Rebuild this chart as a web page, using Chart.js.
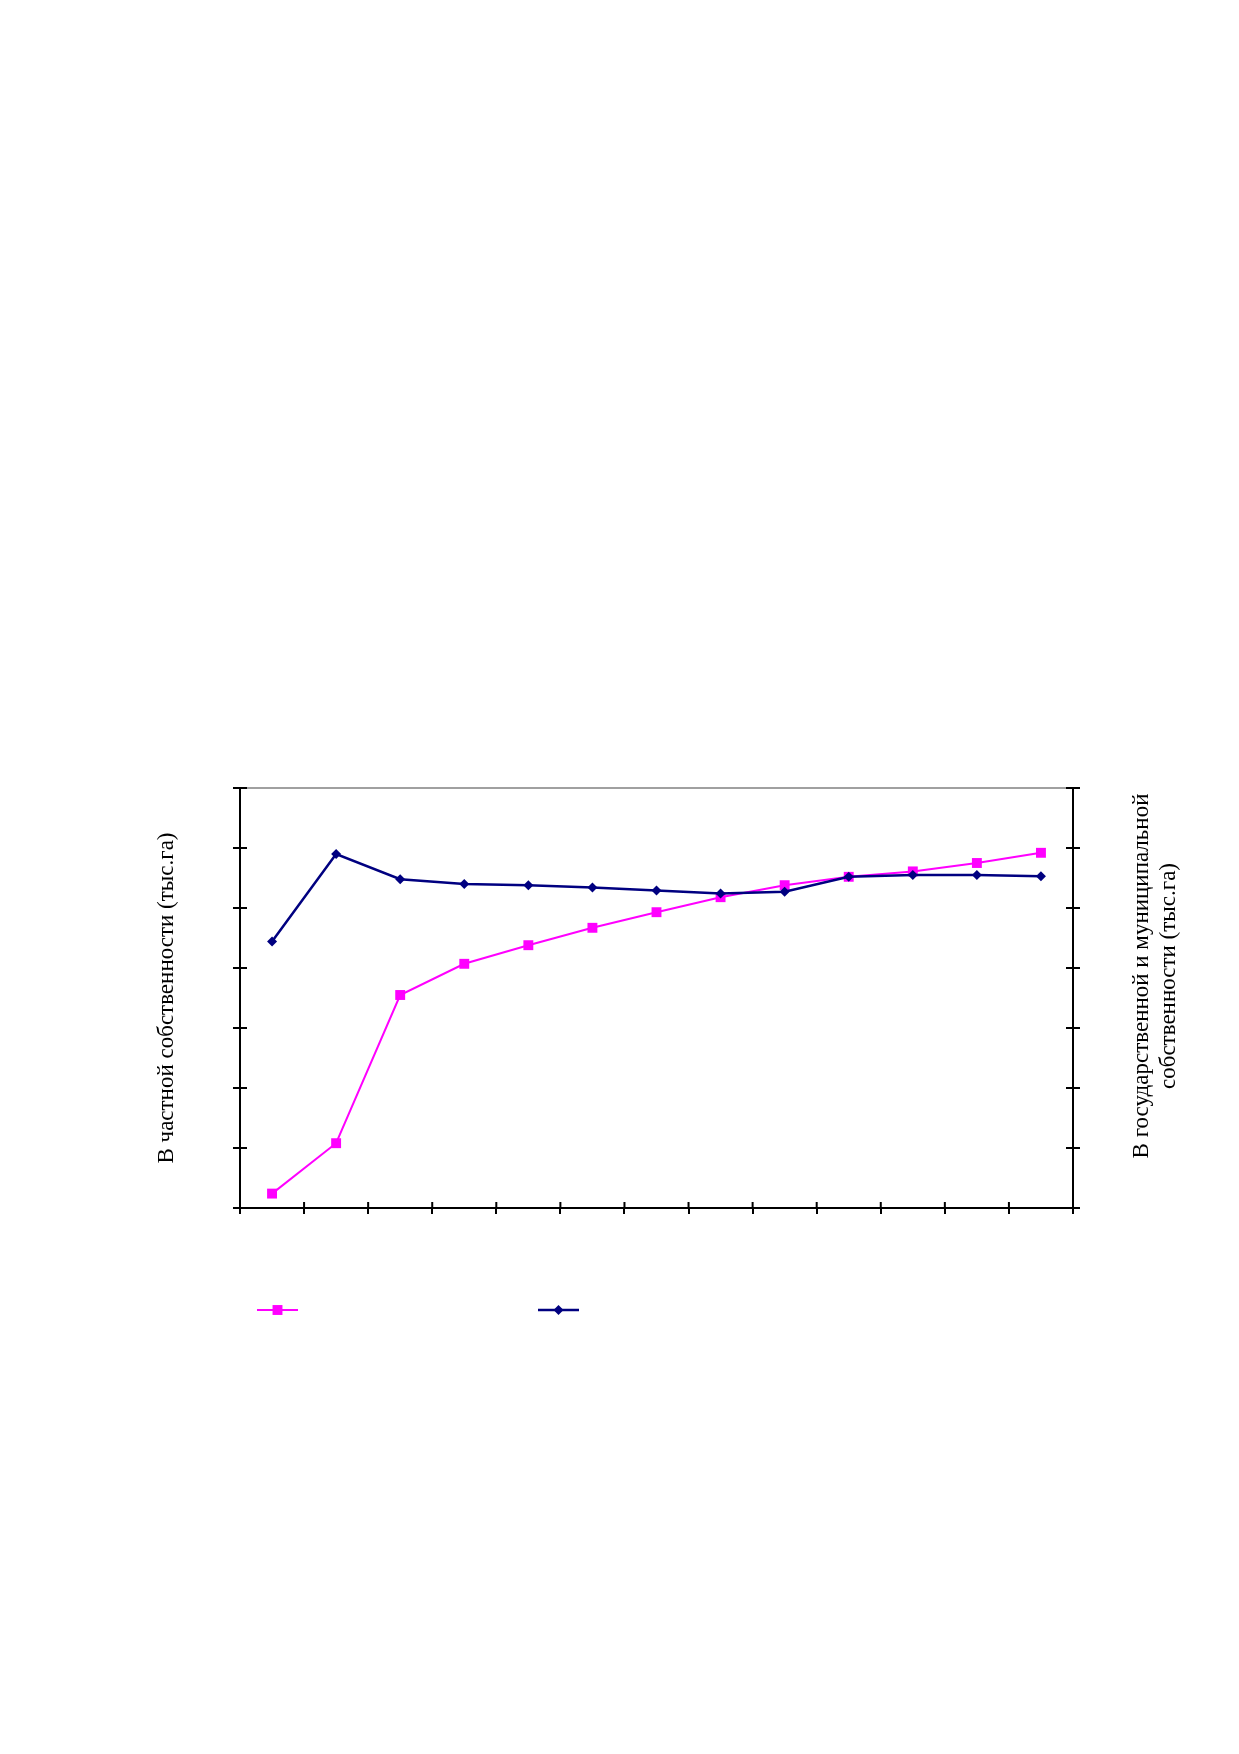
<!DOCTYPE html>
<html>
<head>
<meta charset="utf-8">
<script src="https://cdn.jsdelivr.net/npm/chart.js@4.4.0/dist/chart.umd.min.js"></script>
<style>
  html, body { margin: 0; padding: 0; background: #fff; }
  #wrap { position: absolute; left: 0; top: 0; width: 1239px; height: 1754px; }
</style>
</head>
<body>
<div id="wrap"><canvas id="mycanvas"></canvas></div>
<script>
// periods (no labels are printed on the original axis)
var periods = ['1', '2', '3', '4', '5', '6', '7', '8', '9', '10', '11', '12', '13'];
// in tick units (each axis has 7 equal divisions)
var privateLand = [2.4, 10.8, 35.5, 40.7, 43.8, 46.7, 49.3, 51.8, 53.8, 55.2, 56.1, 57.5, 59.2];
var stateLand = [44.4, 59.0, 54.8, 54.0, 53.8, 53.4, 52.9, 52.4, 52.7, 55.2, 55.5, 55.5, 55.3];
var yTicks = [0, 10, 20, 30, 40, 50, 60, 70];

var leftTitle = 'В частной собственности (тыс.га)';
var rightTitle = ['В государственной и муниципальной', 'собственности (тыс.га)'];

var pink = '#FF00FF';
var navy = '#000080';
var serif = "'Liberation Serif', 'Times New Roman', serif";

// extras the library does not draw: crossing ticks, grey top edge,
// right title read bottom-to-top, legend keys without text
var frame = {
  id: 'frame',
  afterDraw: function(chart) {
    var ctx = chart.ctx;
    var a = chart.chartArea;
    var x = chart.scales.x, y = chart.scales.y;
    ctx.save();

    ctx.strokeStyle = '#808080';
    ctx.lineWidth = 1.5;
    ctx.beginPath();
    ctx.moveTo(a.left, a.top);
    ctx.lineTo(a.right, a.top);
    ctx.stroke();

    ctx.strokeStyle = '#000';
    ctx.lineWidth = 2;
    ctx.beginPath();
    yTicks.forEach(function(v) {
      var p = y.getPixelForValue(v);
      ctx.moveTo(a.left, p); ctx.lineTo(a.left + 7, p);
      ctx.moveTo(a.right, p); ctx.lineTo(a.right - 7, p);
    });
    for (var i = 0; i <= periods.length; i++) {
      var px = x.getPixelForValue(i - 0.5);
      ctx.moveTo(px, a.bottom); ctx.lineTo(px, a.bottom - 6);
    }
    ctx.stroke();

    ctx.fillStyle = '#000';
    ctx.font = '23px ' + serif;
    ctx.textAlign = 'center';
    ctx.textBaseline = 'middle';
    var cy = (a.top + a.bottom) / 2 - 22;
    rightTitle.forEach(function(line, k) {
      ctx.save();
      ctx.translate(a.right + 69 + k * 27, cy);
      ctx.rotate(-Math.PI / 2);
      ctx.fillText(line, 0, 0);
      ctx.restore();
    });

    var ly = a.bottom + 102;
    var keys = [
      { ds: chart.data.datasets[0], dx: 17 },
      { ds: chart.data.datasets[1], dx: 298 }
    ];
    keys.forEach(function(k) {
      var x0 = a.left + k.dx;
      ctx.strokeStyle = k.ds.borderColor;
      ctx.lineWidth = k.ds.borderWidth;
      ctx.beginPath();
      ctx.moveTo(x0, ly); ctx.lineTo(x0 + 41, ly);
      ctx.stroke();
      ctx.fillStyle = k.ds.borderColor;
      Chart.helpers.drawPoint(ctx, {
        pointStyle: k.ds.pointStyle,
        radius: k.ds.pointRadius,
        borderWidth: 0
      }, x0 + 20.5, ly);
    });

    ctx.restore();
  }
};

var axisGrid = { drawOnChartArea: false, color: '#000', lineWidth: 2, tickLength: 7 };
var axisBorder = { display: true, color: '#000', width: 2 };

var chartdata = {
  labels: periods,
  datasets: [
    {
      label: 'В частной собственности',
      data: privateLand,
      yAxisID: 'y',
      borderColor: pink,
      backgroundColor: pink,
      borderWidth: 2,
      pointStyle: 'rect',
      pointRadius: 7,
      pointBackgroundColor: pink,
      pointBorderColor: pink,
      pointBorderWidth: 0,
      lineTension: 0,
      fill: false,
      order: 1
    },
    {
      label: 'В государственной и муниципальной собственности',
      data: stateLand,
      yAxisID: 'y1',
      borderColor: navy,
      backgroundColor: navy,
      borderWidth: 2.5,
      pointStyle: 'rectRot',
      pointRadius: 5,
      pointBackgroundColor: navy,
      pointBorderColor: navy,
      pointBorderWidth: 0,
      lineTension: 0,
      fill: false,
      order: 0
    }
  ]
};

var ctx = document.getElementById('mycanvas');

var LineGraph = new Chart(ctx, {
  type: 'line',
  data: chartdata,
  plugins: [frame],
  options: {
    responsive: true,
    maintainAspectRatio: false,
    animation: false,
    layout: { padding: { left: 150, top: 788, right: 0, bottom: 0 } },
    plugins: { legend: { display: false }, tooltip: { enabled: false } },
    scales: {
      x: {
        type: 'category',
        offset: true,
        grid: { offset: true, drawOnChartArea: false, color: '#000', lineWidth: 2, tickLength: 6 },
        border: axisBorder,
        ticks: { display: false },
        afterFit: function(s) { s.height = 546; }
      },
      y: {
        position: 'left',
        min: 0, max: 70,
        ticks: { display: false, stepSize: 10 },
        grid: axisGrid,
        border: axisBorder,
        title: {
          display: true,
          text: leftTitle,
          color: '#000',
          font: { family: serif, size: 23, weight: 'normal' },
          padding: { top: 3, bottom: 0 }
        },
        afterFit: function(s) { s.width = 90; }
      },
      y1: {
        position: 'right',
        min: 0, max: 70,
        ticks: { display: false, stepSize: 10 },
        grid: axisGrid,
        border: axisBorder,
        afterFit: function(s) { s.width = 166; }
      }
    }
  }
});
</script>
</body>
</html>
